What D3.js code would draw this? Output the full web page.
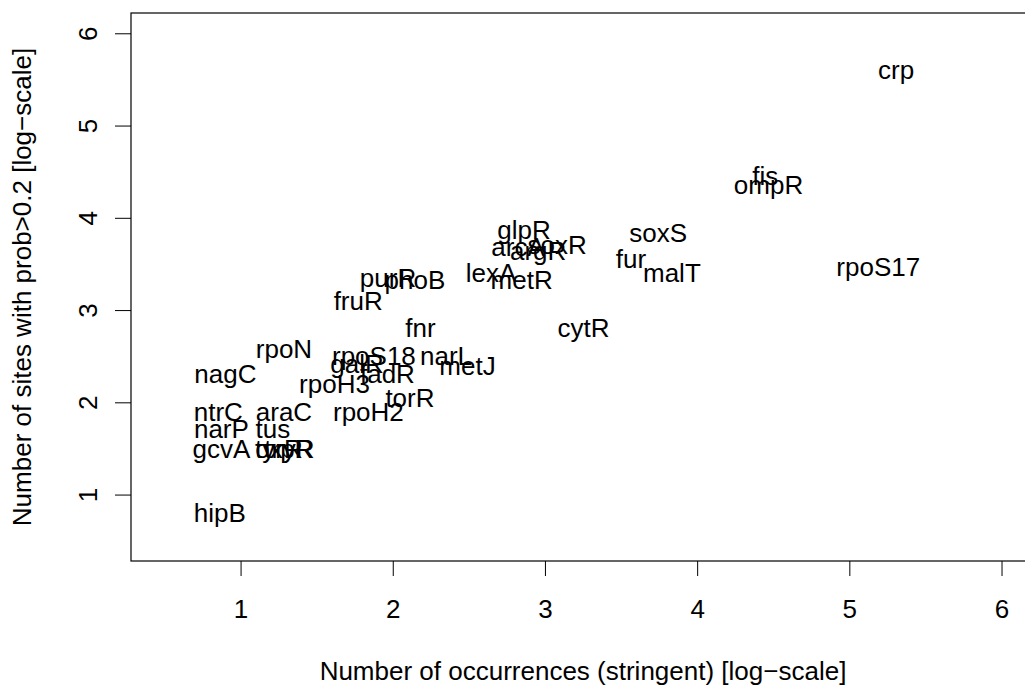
<!DOCTYPE html>
<html>
<head>
<meta charset="utf-8">
<script src="https://cdn.jsdelivr.net/npm/d3@7"></script>
<style>
  body { margin: 0; background: #fff; }
  text { font-family: "Liberation Sans", Arial, Helvetica, sans-serif; fill: #000; }
</style>
</head>
<body>
<div id="chart"></div>
<script>
// regulator names, and where they sit (log-scale values)
var names = ['crp', 'fis', 'ompR', 'soxS', 'fur', 'malT', 'rpoS17',
             'glpR', 'arcA', 'argR', 'soxR', 'lexA', 'metR', 'purR', 'phoB',
             'fruR', 'fnr', 'cytR', 'rpoN', 'nagC', 'rpoS18', 'narL', 'metJ',
             'galR', 'fadR', 'rpoH3', 'torR', 'ntrC', 'araC', 'rpoH2',
             'narP', 'tus', 'gcvA', 'tyrR', 'oxyR', 'trpR', 'hipB'];
var occurrences = [5.307, 4.447, 4.469, 3.744, 3.565, 3.834, 5.190,
                   2.863, 2.823, 2.955, 3.080, 2.646, 2.847, 1.969, 2.146,
                   1.773, 2.182, 3.253, 1.285, 0.900, 1.876, 2.350, 2.491,
                   1.765, 1.965, 1.617, 2.113, 0.854, 1.285, 1.840,
                   0.874, 1.212, 0.874, 1.252, 1.291, 1.317, 0.864];
var sites = [5.602, 4.457, 4.359, 3.842, 3.554, 3.408, 3.473,
             3.868, 3.687, 3.643, 3.708, 3.408, 3.329, 3.354, 3.329,
             3.102, 2.812, 2.812, 2.581, 2.310, 2.506, 2.506, 2.397,
             2.419, 2.310, 2.202, 2.050, 1.899, 1.899, 1.899,
             1.714, 1.714, 1.498, 1.498, 1.498, 1.498, 0.804];
var xTicks = [1, 2, 3, 4, 5, 6];
var yTicks = [1, 2, 3, 4, 5, 6];
var xTitle = 'Number of occurrences (stringent) [log\u2212scale]';
var yTitle = 'Number of sites with prob>0.2 [log\u2212scale]';

var width = 1025, height = 688;
var fontSize = 26;
// plot box, the right side runs off the picture
var box = { left: 131, top: 13, right: 1035, bottom: 561 };

var svg = d3.select('#chart').append('svg')
    .attr('width', width)
    .attr('height', height);

svg.append('rect')
    .attr('width', width)
    .attr('height', height)
    .attr('fill', '#fff');

// limits 0.5..6 plus R's 4% padding
var x = d3.scaleLinear().domain([0.28, 6.22]).range([box.left, box.right]);
var y = d3.scaleLinear().domain([0.28, 6.22]).range([box.bottom, box.top]);

// x axis
var xAxis = svg.append('g')
    .attr('transform', 'translate(0,' + box.bottom + ')')
    .call(d3.axisBottom(x).tickValues(xTicks).tickFormat(d3.format('d'))
          .tickSize(15).tickSizeOuter(0).tickPadding(24));
xAxis.select('.domain').remove();
xAxis.selectAll('line').attr('stroke', '#000');
xAxis.selectAll('text')
    .attr('fill', '#000')
    .style('font-size', fontSize + 'px');

// y axis, labels turned like in R
var yAxis = svg.append('g')
    .attr('transform', 'translate(' + box.left + ',0)')
    .call(d3.axisLeft(y).tickValues(yTicks).tickFormat(d3.format('d'))
          .tickSize(16).tickSizeOuter(0));
yAxis.select('.domain').remove();
yAxis.selectAll('line').attr('stroke', '#000');
yAxis.selectAll('text')
    .attr('x', null)
    .attr('dy', null)
    .attr('fill', '#000')
    .attr('text-anchor', 'middle')
    .attr('transform', 'translate(-34,0) rotate(-90)')
    .style('font-size', fontSize + 'px');

// box round the plot
svg.append('rect')
    .attr('x', box.left)
    .attr('y', box.top)
    .attr('width', box.right - box.left)
    .attr('height', box.bottom - box.top)
    .attr('fill', 'none')
    .attr('stroke', '#000')
    .attr('stroke-width', 1.2);

// the labels are the points
svg.append('g').selectAll('text')
    .data(names)
    .join('text')
    .attr('x', function(d, i) { return x(occurrences[i]); })
    .attr('y', function(d, i) { return y(sites[i]); })
    .attr('dy', '0.358em')
    .attr('text-anchor', 'middle')
    .style('font-size', fontSize + 'px')
    .text(function(d) { return d; });

// axis titles
svg.append('text')
    .attr('x', (box.left + box.right) / 2)
    .attr('y', 680)
    .attr('text-anchor', 'middle')
    .style('font-size', fontSize + 'px')
    .text(xTitle);

svg.append('text')
    .attr('transform', 'translate(31,' + (box.top + box.bottom) / 2 + ') rotate(-90)')
    .attr('text-anchor', 'middle')
    .style('font-size', fontSize + 'px')
    .text(yTitle);
</script>
</body>
</html>
